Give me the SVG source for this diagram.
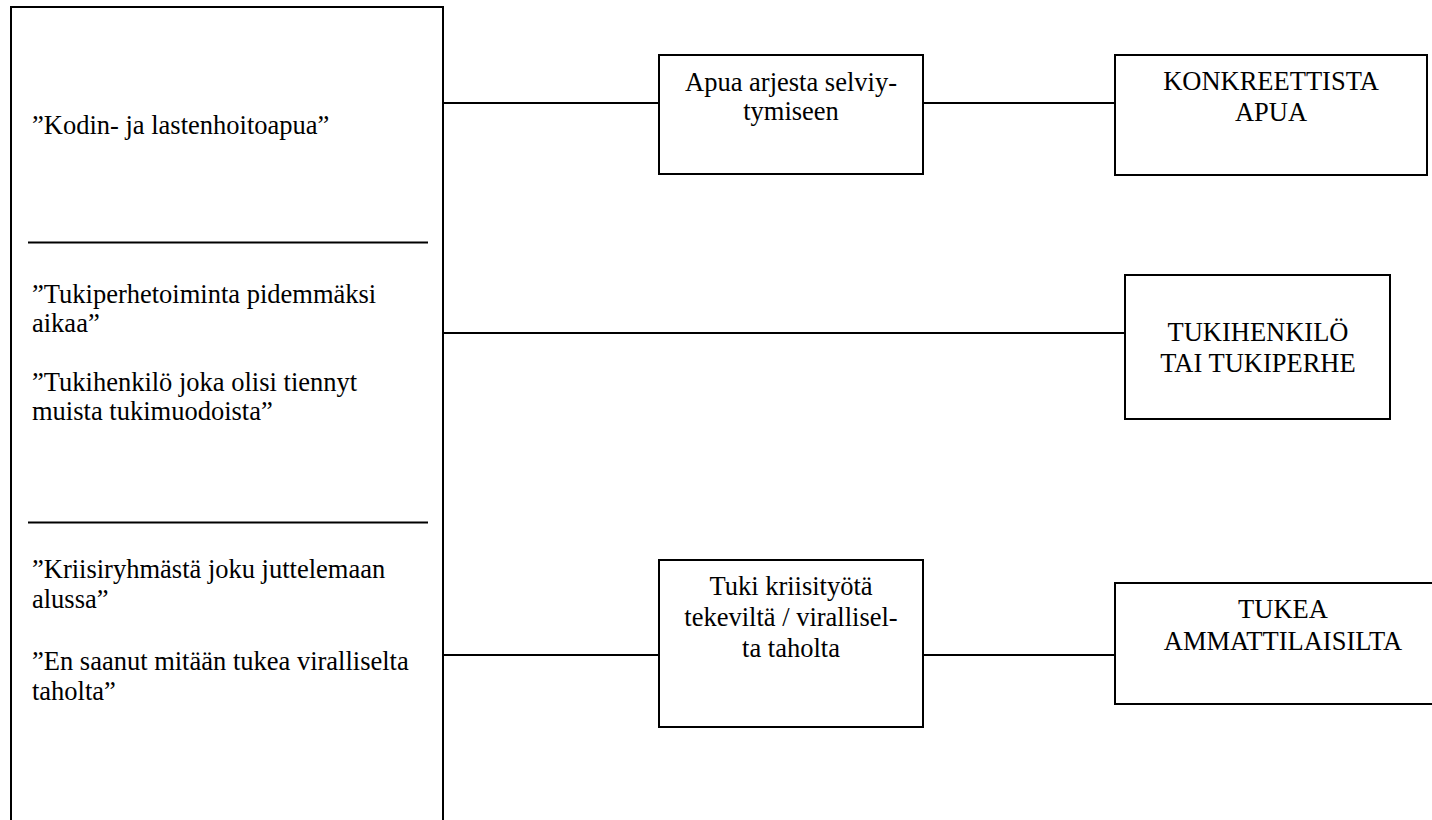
<svg xmlns="http://www.w3.org/2000/svg" width="1432" height="820" viewBox="0 0 1432 820">
  <style>
    .box { fill: #ffffff; stroke: #000000; stroke-width: 2; }
    .rule { stroke: #000000; stroke-width: 2.2; }
    .link { stroke: #000000; stroke-width: 2; fill: none; }
    .t { font-family: 'Liberation Serif', 'DejaVu Serif', 'Times New Roman', Times, serif; font-size: 26.5px; fill: #000000; }
    .c { text-anchor: middle; }
  </style>
  <rect width="1432" height="820" fill="#ffffff"/>

  <!-- connectors -->
  <g id="connectors">
    <line class="link" x1="443" y1="103" x2="659" y2="103"/>
    <line class="link" x1="923" y1="103" x2="1115" y2="103"/>
    <line class="link" x1="443" y1="333" x2="1125" y2="333"/>
    <line class="link" x1="443" y1="655" x2="659" y2="655"/>
    <line class="link" x1="923" y1="655" x2="1115" y2="655"/>
  </g>

  <!-- quotes panel -->
  <g id="quotes" class="t">
    <rect class="box" x="11" y="7" width="432" height="830"/>
    <line class="rule" x1="28" y1="242.5" x2="428" y2="242.5"/>
    <line class="rule" x1="28" y1="522.5" x2="428" y2="522.5"/>
    <text x="32" y="134">”Kodin- ja lastenhoitoapua”</text>
    <text x="32" y="303">”Tukiperhetoiminta pidemmäksi</text>
    <text x="32" y="332">aikaa”</text>
    <text x="32" y="391">”Tukihenkilö joka olisi tiennyt</text>
    <text x="32" y="420">muista tukimuodoista”</text>
    <text x="32" y="578">”Kriisiryhmästä joku juttelemaan</text>
    <text x="32" y="608">alussa”</text>
    <text x="32" y="670">”En saanut mitään tukea viralliselta</text>
    <text x="32" y="700">taholta”</text>
  </g>

  <g id="apua-arkeen" class="t">
    <rect class="box" x="659" y="55" width="264" height="119"/>
    <text class="c" x="791" y="91">Apua arjesta selviy-</text>
    <text class="c" x="791" y="120">tymiseen</text>
  </g>

  <g id="konkreettista-apua" class="t">
    <rect class="box" x="1115" y="55" width="312" height="120"/>
    <text class="c" x="1271" y="90">KONKREETTISTA</text>
    <text class="c" x="1271" y="121">APUA</text>
  </g>

  <g id="tukihenkilo" class="t">
    <rect class="box" x="1125" y="275" width="265" height="144"/>
    <text class="c" x="1258" y="341">TUKIHENKILÖ</text>
    <text class="c" x="1258" y="372">TAI TUKIPERHE</text>
  </g>

  <g id="tuki-kriisityo" class="t">
    <rect class="box" x="659" y="560" width="264" height="167"/>
    <text class="c" x="791" y="595">Tuki kriisityötä</text>
    <text class="c" x="791" y="626">tekeviltä / virallisel-</text>
    <text class="c" x="791" y="657">ta taholta</text>
  </g>

  <g id="tukea-ammattilaisilta" class="t">
    <rect class="box" x="1115" y="583" width="340" height="121"/>
    <text class="c" x="1283" y="618">TUKEA</text>
    <text class="c" x="1283" y="650">AMMATTILAISILTA</text>
  </g>
</svg>
